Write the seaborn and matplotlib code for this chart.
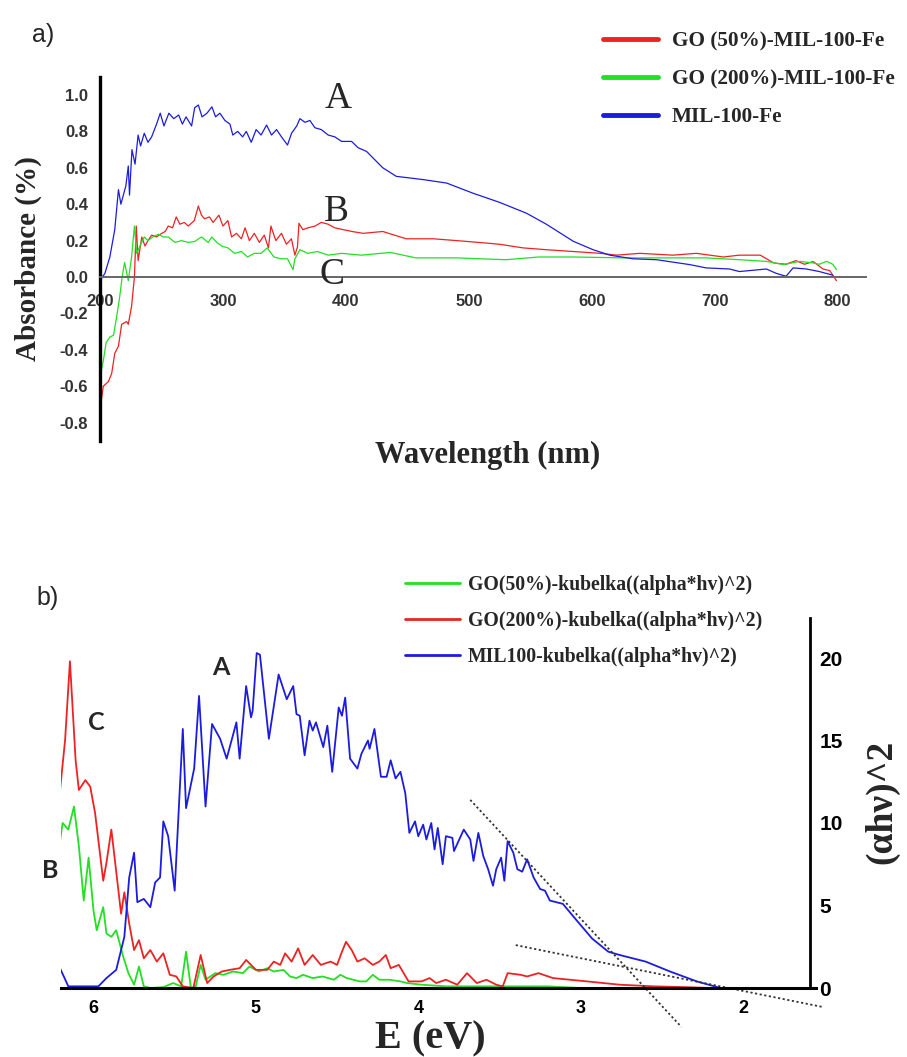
import matplotlib
matplotlib.use("Agg")
import matplotlib.pyplot as plt
from matplotlib import font_manager
import seaborn as sns

# ---------------- data: panel a (UV-vis absorbance) ----------------
wl_mil = [200, 204, 208, 212, 215, 217, 221, 223, 224, 226, 228.5, 231, 233, 236, 239, 242, 246, 249,
          252, 256, 260, 264, 267, 270, 274.5, 277, 280, 283, 287, 291, 294, 297.5, 301.6, 305.7, 308,
          312, 316, 319, 323, 327, 331, 335.5, 339.5, 343.6, 347.6, 352.5, 355.8, 360, 362.6, 366.7,
          370.7, 374.8, 380, 385.6, 391, 396.5, 404.6, 410, 416.8, 430, 441, 463, 482, 503.5, 525, 547,
          563, 585, 601, 614.6, 633.6, 652.6, 679.7, 693, 712, 720, 742, 750, 758, 763.7, 774.5, 785, 796]
abs_mil = [-0.02, 0.02, 0.11, 0.26, 0.48, 0.40, 0.50, 0.61, 0.45, 0.70, 0.62, 0.78, 0.72, 0.79, 0.74,
           0.77, 0.84, 0.90, 0.83, 0.90, 0.87, 0.89, 0.84, 0.88, 0.83, 0.93, 0.945, 0.88, 0.90, 0.935,
           0.88, 0.90, 0.86, 0.84, 0.78, 0.80, 0.77, 0.80, 0.74, 0.81, 0.78, 0.835, 0.78, 0.81, 0.77,
           0.725, 0.79, 0.83, 0.87, 0.85, 0.86, 0.82, 0.81, 0.78, 0.77, 0.745, 0.745, 0.71, 0.69, 0.60,
           0.553, 0.535, 0.516, 0.46, 0.41, 0.35, 0.29, 0.196, 0.15, 0.12, 0.10, 0.095, 0.068, 0.05,
           0.044, 0.03, 0.044, 0.02, 0.004, 0.05, 0.044, 0.03, 0.01]

wl_go50 = [200, 202.7, 206.8, 209.5, 212, 215, 217.6, 221.7, 223, 225.7, 228, 229.5, 231, 234, 236.6,
           239, 242, 246, 249, 253, 255.5, 259, 262, 265, 268.6, 271.8, 276.7, 280, 282.5, 285, 289,
           292, 296.7, 300, 304, 307, 311, 315, 318, 321.5, 325.5, 329.6, 333.6, 337, 339, 343, 347.6,
           351.6, 355.7, 358.5, 360.6, 361.8, 365, 369, 375, 380, 385.6, 391, 398, 405, 414, 430, 449,
           471, 490, 508, 525, 544, 563, 585, 607, 620, 639, 666, 685, 707, 720, 737, 748, 758, 766,
           773, 780, 788, 793.5, 799]
abs_go50 = [-0.73, -0.60, -0.575, -0.53, -0.42, -0.38, -0.26, -0.245, -0.26, -0.16, 0.0, 0.28, 0.09,
            0.22, 0.17, 0.20, 0.23, 0.22, 0.235, 0.25, 0.28, 0.27, 0.33, 0.29, 0.30, 0.28, 0.31, 0.39,
            0.34, 0.32, 0.33, 0.30, 0.34, 0.28, 0.31, 0.22, 0.24, 0.21, 0.27, 0.20, 0.24, 0.19, 0.23,
            0.16, 0.28, 0.20, 0.24, 0.18, 0.21, 0.12, 0.165, 0.295, 0.26, 0.27, 0.28, 0.30, 0.29, 0.27,
            0.26, 0.25, 0.24, 0.25, 0.21, 0.21, 0.20, 0.19, 0.18, 0.16, 0.15, 0.14, 0.13, 0.12, 0.13,
            0.12, 0.13, 0.11, 0.12, 0.12, 0.077, 0.07, 0.09, 0.07, 0.085, 0.044, 0.035, -0.02]

wl_go200 = [200, 202.7, 205, 208, 211, 213.5, 216, 218, 220, 223, 225.7, 228, 229.8, 232.5, 236, 239,
            243, 247.4, 251.5, 255.5, 261, 266.4, 271.8, 277, 282.5, 288, 291, 295, 299, 304, 309.5,
            315, 320, 325.5, 331, 336, 341.5, 347, 352.5, 357, 358.5, 362.6, 369, 377, 385.6, 396.5,
            412.6, 436, 457, 490, 530, 557, 585, 626, 666, 693, 720, 742, 756, 769, 780, 785, 791, 796, 799]
abs_go200 = [-0.55, -0.46, -0.36, -0.33, -0.32, -0.22, -0.11, 0.0, 0.08, -0.02, 0.11, 0.28, 0.13, 0.17,
             0.22, 0.20, 0.22, 0.235, 0.22, 0.22, 0.19, 0.20, 0.19, 0.195, 0.22, 0.19, 0.22, 0.19, 0.17,
             0.16, 0.13, 0.14, 0.11, 0.13, 0.13, 0.16, 0.11, 0.10, 0.10, 0.04, 0.10, 0.15, 0.13, 0.14,
             0.12, 0.13, 0.12, 0.135, 0.105, 0.105, 0.095, 0.11, 0.11, 0.105, 0.105, 0.105, 0.095, 0.086,
             0.068, 0.086, 0.077, 0.07, 0.086, 0.07, 0.04]

labels_a = ["GO (50%)-MIL-100-Fe", "GO (200%)-MIL-100-Fe", "MIL-100-Fe"]
xticks_a = [200, 300, 400, 500, 600, 700, 800]
yticks_a = [-0.8, -0.6, -0.4, -0.2, 0.0, 0.2, 0.4, 0.6, 0.8, 1.0]
ytick_labels_a = ["-0.8", "-0.6", "-0.4", "-0.2", "0.0", "0.2", "0.4", "0.6", "0.8", "1.0"]

# ---------------- data: panel b (Kubelka-Munk / Tauc) ----------------
E_mil = [6.206, 6.155, 5.97, 5.92, 5.86, 5.81, 5.78, 5.75, 5.73, 5.69, 5.65, 5.62, 5.59, 5.57, 5.54,
         5.50, 5.45, 5.43, 5.38, 5.35, 5.31, 5.27, 5.22, 5.18, 5.12, 5.10, 5.06, 5.03, 5.02, 4.995,
         4.975, 4.92, 4.86, 4.81, 4.77, 4.75, 4.73, 4.70, 4.67, 4.65, 4.63, 4.585, 4.56, 4.53, 4.49,
         4.47, 4.45, 4.42, 4.375, 4.35, 4.31, 4.30, 4.27, 4.23, 4.195, 4.17, 4.14, 4.11, 4.08, 4.055,
         4.02, 4.0, 3.97, 3.95, 3.92, 3.90, 3.88, 3.85, 3.83, 3.79, 3.78, 3.72, 3.68, 3.66, 3.63, 3.60,
         3.57, 3.54, 3.52, 3.49, 3.47, 3.45, 3.415, 3.39, 3.36, 3.33, 3.29, 3.25, 3.22, 3.19, 3.11,
         3.025, 2.93, 2.83, 2.76, 2.60, 2.45, 2.285, 2.14]
K_mil = [1.2, 0.1, 0.1, 0.6, 1.1, 3.1, 6.7, 8.2, 5.2, 5.4, 4.9, 6.4, 6.7, 10.1, 9.2, 5.9, 15.7, 10.9,
         13.3, 17.7, 11.0, 16.0, 15.1, 13.9, 16.1, 13.9, 18.3, 16.4, 16.8, 20.3, 20.2, 15.1, 19.0, 17.5,
         18.3, 16.6, 16.5, 14.1, 16.2, 15.6, 16.1, 14.6, 15.9, 13.1, 17.0, 16.5, 17.6, 13.9, 13.3, 14.2,
         15.0, 14.5, 15.7, 12.8, 12.8, 13.8, 12.7, 13.1, 11.8, 9.4, 10.1, 9.2, 9.9, 9.0, 10.0, 8.4, 9.7,
         7.5, 9.2, 9.1, 8.3, 9.6, 9.0, 7.7, 9.4, 8.0, 7.2, 6.2, 7.2, 7.9, 6.5, 8.9, 8.2, 7.2, 7.05, 7.8,
         6.7, 6.0, 5.9, 5.3, 5.1, 4.1, 3.0, 2.2, 2.0, 1.6, 1.0, 0.4, 0.0]

E_go200 = [6.206, 6.175, 6.145, 6.11, 6.09, 6.05, 6.02, 5.99, 5.94, 5.92, 5.89, 5.83, 5.81, 5.78, 5.75,
           5.72, 5.69, 5.65, 5.61, 5.57, 5.53, 5.49, 5.45, 5.385, 5.34, 5.30, 5.26, 5.21, 5.16, 5.10,
           5.06, 5.0, 4.93, 4.89, 4.85, 4.82, 4.78, 4.74, 4.70, 4.65, 4.60, 4.54, 4.50, 4.47, 4.445,
           4.41, 4.375, 4.33, 4.28, 4.24, 4.20, 4.17, 4.12, 4.09, 4.06, 3.98, 3.93, 3.89, 3.83, 3.76,
           3.70, 3.64, 3.58, 3.52, 3.48, 3.45, 3.37, 3.33, 3.26, 3.17, 2.96, 2.76, 2.55, 2.35, 2.2]
K_go200 = [12.0, 15.0, 19.8, 13.8, 12.0, 12.6, 12.2, 10.6, 6.5, 7.6, 9.6, 4.5, 5.8, 3.9, 2.3, 2.9, 1.8,
           2.3, 1.6, 2.1, 0.8, 0.7, 0.1, 0.0, 2.0, 0.3, 0.7, 1.0, 1.1, 1.2, 1.7, 1.1, 1.1, 1.6, 1.4,
           2.1, 1.6, 2.4, 1.4, 2.0, 1.4, 1.6, 1.4, 2.2, 2.8, 2.3, 1.6, 1.8, 1.4, 1.6, 2.0, 1.2, 1.4,
           0.9, 0.4, 0.4, 0.6, 0.3, 0.5, 0.2, 0.9, 0.3, 0.5, 0.2, 0.1, 0.9, 0.8, 0.7, 0.9, 0.6, 0.4,
           0.2, 0.1, 0.05, 0.0]

E_go50 = [6.206, 6.19, 6.155, 6.12, 6.09, 6.06, 6.03, 6.0, 5.98, 5.94, 5.92, 5.89, 5.86, 5.82, 5.785,
          5.75, 5.72, 5.69, 5.65, 5.57, 5.51, 5.46, 5.43, 5.40, 5.37, 5.34, 5.31, 5.25, 5.20, 5.14,
          5.08, 5.04, 4.98, 4.93, 4.89, 4.83, 4.79, 4.75, 4.71, 4.65, 4.59, 4.52, 4.48, 4.44, 4.36,
          4.32, 4.28, 4.24, 4.18, 4.11, 4.07, 3.98, 3.83, 3.62, 3.42, 3.2, 3.0, 2.5]
K_go50 = [8.9, 10.0, 9.6, 11.0, 8.6, 5.3, 7.9, 4.7, 3.5, 4.9, 3.3, 3.1, 3.5, 2.0, 0.9, 0.2, 1.3, 0.1,
          0.0, 0.05, 0.3, 0.1, 2.2, 0.0, 0.1, 1.4, 0.5, 0.9, 0.8, 1.0, 0.9, 1.3, 1.0, 1.2, 1.0, 1.1,
          0.7, 0.6, 0.8, 0.6, 0.7, 0.5, 0.8, 0.6, 0.4, 0.4, 0.8, 0.5, 0.5, 0.4, 0.3, 0.2, 0.1, 0.1,
          0.1, 0.1, 0.0, 0.0]

tangent1_E = [3.68, 2.38]
tangent1_K = [11.4, -2.36]
tangent2_E = [3.40, 1.51]
tangent2_K = [2.6, -1.15]

labels_b = ["GO(50%)-kubelka((alpha*hv)^2)", "GO(200%)-kubelka((alpha*hv)^2)", "MIL100-kubelka((alpha*hv)^2)"]
xticks_b = [6, 5, 4, 3, 2]
yticks_b = [0, 5, 10, 15, 20]

# ---------------- style ----------------
sns.set_style("white")
names = {f.name for f in font_manager.fontManager.ttflist}
def pick(*cands):
    for c in cands:
        if c in names:
            return c
    return "DejaVu Sans"
SERIF = pick("Liberation Serif", "DejaVu Serif")
SANS = pick("Liberation Sans", "Arimo", "DejaVu Sans")
LATO = pick("Lato", "Open Sans", SANS)
plt.rcParams["font.family"] = [SANS, "DejaVu Sans"]
plt.rcParams["axes.unicode_minus"] = False

RED = "#ee2222"
GREEN = "#22e022"
BLUE = "#1c1ce0"

W, H = 907, 1057
fig = plt.figure(figsize=(W / 100, H / 100), dpi=100)

def fx(px):
    return px / W

def fy(py):
    return 1 - py / H

# ---------------- panel a ----------------
axa = fig.add_axes([fx(100), fy(440.8), fx(866) - fx(100), fy(76.8) - fy(440.8)])
sns.lineplot(x=wl_go50, y=abs_go50, ax=axa, color=RED, lw=0.9, sort=False, estimator=None, label=labels_a[0])
sns.lineplot(x=wl_go200, y=abs_go200, ax=axa, color=GREEN, lw=0.9, sort=False, estimator=None, label=labels_a[1])
sns.lineplot(x=wl_mil, y=abs_mil, ax=axa, color=BLUE, lw=0.9, sort=False, estimator=None, label=labels_a[2])
axa.set_xlim(200, 823)
axa.set_ylim(-0.9, 1.1)
for s in ["top", "right"]:
    axa.spines[s].set_visible(False)
axa.spines["left"].set_position(("data", 200))
axa.spines["left"].set_color("black")
axa.spines["left"].set_linewidth(2.4)
axa.spines["bottom"].set_position(("data", 0))
axa.spines["bottom"].set_color("#666666")
axa.spines["bottom"].set_linewidth(1.4)
axa.set_xticks(xticks_a)
axa.set_xticklabels([str(t) for t in xticks_a])
axa.set_yticks(yticks_a)
axa.set_yticklabels(ytick_labels_a)
axa.tick_params(axis="x", length=0, pad=12, labelsize=12, colors="#333333")
axa.tick_params(axis="y", length=0, pad=8.5, labelsize=12, colors="#333333")
for lab in axa.get_xticklabels() + axa.get_yticklabels():
    lab.set_fontweight("bold")
axa.set_xlabel("")
axa.set_ylabel("")
leg = axa.legend(loc="upper left", bbox_to_anchor=(fx(603), fy(31)), bbox_transform=fig.transFigure,
                 frameon=False, prop={"family": SERIF, "weight": "bold", "size": 15.3},
                 handlelength=2.6, handletextpad=0.65, labelspacing=0.85, borderpad=0, borderaxespad=0)
for ln in leg.get_lines():
    ln.set_linewidth(3.5)

axa.text(393.5, 0.98, "A", family=SERIF, fontsize=27, ha="center", va="center")
axa.text(392, 0.36, "B", family=SERIF, fontsize=27, ha="center", va="center")
axa.text(389, 0.01, "C", family=SERIF, fontsize=27, ha="center", va="center")

fig.text(fx(28), fy(259), "Absorbance (%)", family=SERIF, weight="bold", fontsize=21,
         rotation=90, ha="center", va="center")
fig.text(fx(488), fy(455), "Wavelength (nm)", family=SERIF, weight="bold", fontsize=22,
         ha="center", va="center")
fig.text(fx(43), fy(35), "a)", family=SANS, fontsize=18, ha="center", va="center")

# ---------------- panel b ----------------
axb = fig.add_axes([fx(61), fy(1030.9), fx(824.3) - fx(61), fy(618.4) - fy(1030.9)])
sns.lineplot(x=E_go50, y=K_go50, ax=axb, color=GREEN, lw=1.3, sort=False, estimator=None, label=labels_b[0])
sns.lineplot(x=E_go200, y=K_go200, ax=axb, color=RED, lw=1.3, sort=False, estimator=None, label=labels_b[1])
sns.lineplot(x=E_mil, y=K_mil, ax=axb, color=BLUE, lw=1.3, sort=False, estimator=None, label=labels_b[2])
axb.plot(tangent1_E, tangent1_K, color="#333333", lw=1.3, ls=(0, (1.2, 1.4)))
axb.plot(tangent2_E, tangent2_K, color="#333333", lw=1.3, ls=(0, (1.2, 1.4)))
axb.set_xlim(6.2, 1.5)
axb.set_ylim(-2.6, 22.4)
axb.spines["top"].set_visible(False)
axb.spines["left"].set_visible(False)
axb.spines["bottom"].set_position(("data", 0))
axb.spines["bottom"].set_bounds(6.2, 1.55)
axb.spines["bottom"].set_color("black")
axb.spines["bottom"].set_linewidth(2.2)
axb.spines["right"].set_position(("data", 1.59))
axb.spines["right"].set_bounds(0, 22.4)
axb.spines["right"].set_color("black")
axb.spines["right"].set_linewidth(2.0)
axb.yaxis.tick_right()
axb.set_xticks(xticks_b)
axb.set_xticklabels([str(t) for t in xticks_b])
axb.set_yticks(yticks_b)
axb.set_yticklabels([str(t) for t in yticks_b])
axb.tick_params(axis="x", length=0, pad=8.5, labelsize=13, colors="black")
axb.tick_params(axis="y", length=0, pad=7, labelsize=15, colors="black", labelright=True, labelleft=False)
for lab in axb.get_xticklabels() + axb.get_yticklabels():
    lab.set_fontweight("bold")
axb.set_xlabel("")
axb.set_ylabel("")
legb = axb.legend(loc="upper left", bbox_to_anchor=(fx(405), fy(575)), bbox_transform=fig.transFigure,
                  frameon=False, prop={"family": SERIF, "weight": "bold", "size": 14.2},
                  handlelength=2.8, handletextpad=0.4, labelspacing=0.8, borderpad=0, borderaxespad=0)
for ln in legb.get_lines():
    ln.set_linewidth(2.0)

axb.text(5.215, 19.4, "A", family=LATO, weight="bold", fontsize=18, ha="center", va="center")
axb.text(5.98, 16.1, "C", family=LATO, weight="bold", fontsize=18, ha="center", va="center")
axb.text(6.265, 7.15, "B", family=LATO, weight="bold", fontsize=18, ha="center", va="center")

fig.text(fx(430), fy(1039), "E (eV)", family=SERIF, weight="bold", fontsize=29, ha="center", va="center")
fig.text(fx(882), fy(802), "(αhν)^2", family=[SERIF, "DejaVu Serif"], weight="bold", fontsize=27,
         rotation=90, ha="center", va="center")
fig.text(fx(48), fy(598), "b)", family=SANS, fontsize=18, ha="center", va="center")

fig.savefig("out.png", dpi=100, facecolor="white")
